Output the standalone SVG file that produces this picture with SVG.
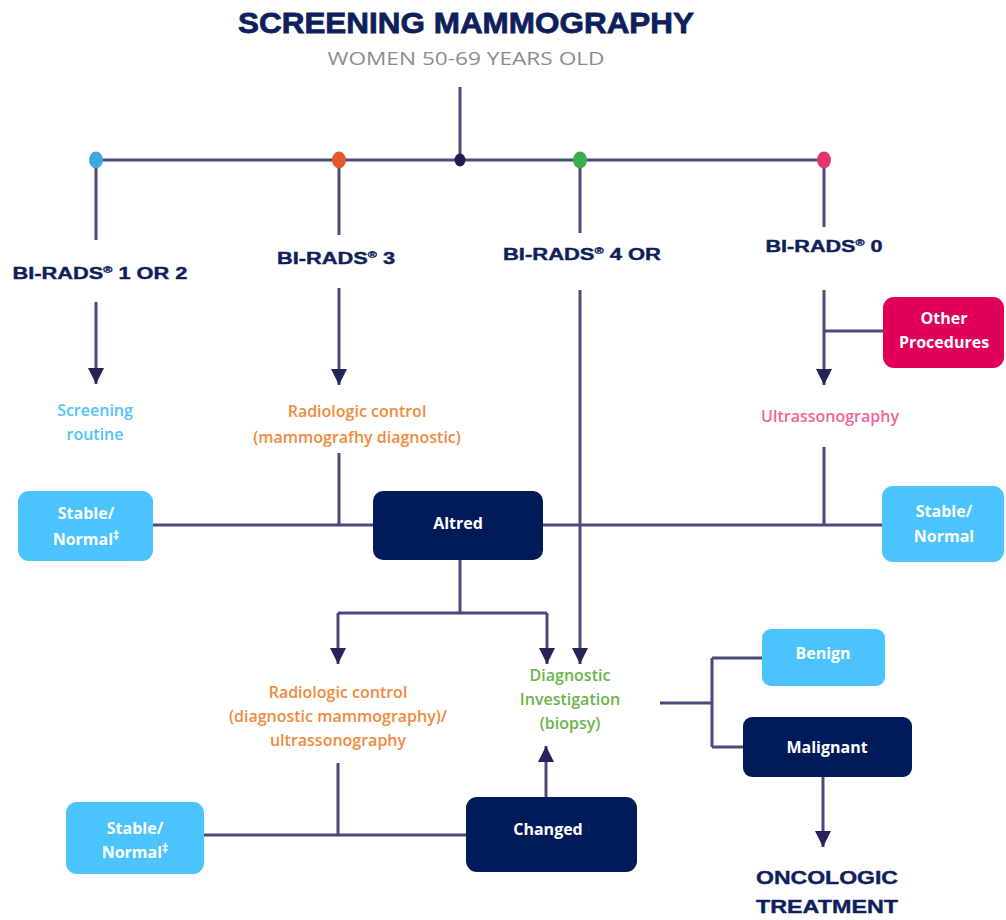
<svg xmlns="http://www.w3.org/2000/svg" width="1006" height="920" viewBox="0 0 1006 920">
<style>
.ln{stroke:#4a4a7c;stroke-width:3;fill:none}
.ar{stroke:#4a4a7c;stroke-width:3;fill:none;marker-end:url(#ah)}
.wide{font-family:"Liberation Sans",Arial,sans-serif;font-weight:bold;fill:#0f1f5c;text-anchor:middle}
.body{font-family:"Open Sans","Liberation Sans",sans-serif;font-weight:600;font-size:16px;text-anchor:middle}
.bt{font-family:"Open Sans","Liberation Sans",sans-serif;font-weight:700;font-size:16px;fill:#ffffff;text-anchor:middle}
.lb{fill:#4bc3fc}
.nv{fill:#001a5a}
.pk{fill:#e0005a}
</style>
<defs>
<marker id="ah" markerUnits="userSpaceOnUse" markerWidth="20" markerHeight="16" refX="16" refY="8" orient="auto">
<path d="M0,0 L16,8 L0,16 Z" fill="#24245a"/>
</marker>
</defs>
<rect width="1006" height="920" fill="#ffffff"/>

<g id="title">
<text class="wide" x="466" y="33" font-size="30" stroke="#0f1f5c" stroke-width="0.8" textLength="456" lengthAdjust="spacingAndGlyphs">SCREENING MAMMOGRAPHY</text>
<text x="466" y="65" font-family="Open Sans,Liberation Sans,sans-serif" font-size="19" fill="#8c8c8c" text-anchor="middle" textLength="277" lengthAdjust="spacingAndGlyphs">WOMEN 50-69 YEARS OLD</text>
</g>

<g id="connectors">
<path class="ln" d="M460,87 V160 M96,160 H824 M96,160 V240 M339,160 V235 M580,160 V233 M824,160 V227"/>
<path class="ar" d="M96,302 V384"/>
<path class="ar" d="M339,288 V385"/>
<path class="ar" d="M824,290 V385"/>
<path class="ln" d="M824,331 H883"/>
<path class="ar" d="M580,290 V664"/>
<path class="ln" d="M339,453 V525 M824,447 V525 M153,525 H373 M543,525 H882 M460,560 V613 M338,613 H547"/>
<path class="ar" d="M338,613 V664"/>
<path class="ar" d="M547,613 V664"/>
<path class="ln" d="M660,703 H712 M712,658 V747 M712,658 H762 M712,747 H743"/>
<path class="ar" d="M823,777 V847"/>
<path class="ln" d="M338,763 V835 M204,835 H466"/>
<path class="ar" d="M546,797 V746"/>
</g>

<g id="dots">
<ellipse cx="96" cy="160" rx="7" ry="8.5" fill="#3fa9e0"/>
<ellipse cx="339" cy="160" rx="7" ry="8.5" fill="#e5582a"/>
<ellipse cx="460" cy="160" rx="5.5" ry="6.5" fill="#1e1e52"/>
<ellipse cx="580" cy="160" rx="7" ry="8.5" fill="#3aae4a"/>
<ellipse cx="824" cy="160" rx="7" ry="8.5" fill="#e5336f"/>
</g>

<g id="birads12"><text class="wide" x="100" y="279" font-size="16" stroke="#0f1f5c" stroke-width="0.4" textLength="175" lengthAdjust="spacingAndGlyphs">BI-RADS<tspan font-size="9" dy="-6">®</tspan><tspan dy="6"> 1 OR 2</tspan></text></g>
<g id="birads3"><text class="wide" x="336" y="264" font-size="16" stroke="#0f1f5c" stroke-width="0.4" textLength="118" lengthAdjust="spacingAndGlyphs">BI-RADS<tspan font-size="9" dy="-6">®</tspan><tspan dy="6"> 3</tspan></text></g>
<g id="birads4"><text class="wide" x="582" y="260" font-size="16" stroke="#0f1f5c" stroke-width="0.4" textLength="158" lengthAdjust="spacingAndGlyphs">BI-RADS<tspan font-size="9" dy="-6">®</tspan><tspan dy="6"> 4 OR</tspan></text></g>
<g id="birads0"><text class="wide" x="824" y="252" font-size="16" stroke="#0f1f5c" stroke-width="0.4" textLength="117" lengthAdjust="spacingAndGlyphs">BI-RADS<tspan font-size="9" dy="-6">®</tspan><tspan dy="6"> 0</tspan></text></g>

<g id="screening-routine"><text class="body" fill="#4fc3f7" x="95" y="416">Screening</text><text class="body" fill="#4fc3f7" x="95" y="440">routine</text></g>
<g id="radiologic-control-1"><text class="body" fill="#f08a3c" x="357" y="417">Radiologic control</text><text class="body" fill="#f08a3c" x="357" y="443">(mammografhy diagnostic)</text></g>
<g id="ultrassonography"><text class="body" fill="#f2649a" x="830" y="422">Ultrassonography</text></g>

<g id="other-procedures"><rect class="pk" x="883" y="297" width="121" height="71" rx="11"/><text class="bt" x="944" y="324">Other</text><text class="bt" x="944" y="348">Procedures</text></g>

<g id="stable-left"><rect class="lb" x="18" y="491" width="135" height="70" rx="11"/><text class="bt" x="86" y="519">Stable/</text><text class="bt" x="86" y="545">Normal<tspan font-size="12" dy="-5">‡</tspan></text></g>
<g id="altred"><rect class="nv" x="373" y="491" width="170" height="69" rx="10"/><text class="bt" x="458" y="529">Altred</text></g>
<g id="stable-right"><rect class="lb" x="882" y="486" width="122" height="76" rx="11"/><text class="bt" x="944" y="517">Stable/</text><text class="bt" x="944" y="542">Normal</text></g>

<g id="radiologic-control-2"><text class="body" fill="#f08a3c" x="338" y="698">Radiologic control</text><text class="body" fill="#f08a3c" x="338" y="722">(diagnostic mammography)/</text><text class="body" fill="#f08a3c" x="338" y="746">ultrassonography</text></g>
<g id="diagnostic-investigation"><text class="body" fill="#6db24a" x="570" y="681">Diagnostic</text><text class="body" fill="#6db24a" x="570" y="705">Investigation</text><text class="body" fill="#6db24a" x="570" y="729">(biopsy)</text></g>

<g id="benign"><rect class="lb" x="762" y="629" width="123" height="57" rx="9"/><text class="bt" x="823" y="659">Benign</text></g>
<g id="malignant"><rect class="nv" x="743" y="717" width="169" height="60" rx="9"/><text class="bt" x="827" y="753">Malignant</text></g>

<g id="stable-bottom"><rect class="lb" x="66" y="802" width="138" height="72" rx="11"/><text class="bt" x="135" y="834">Stable/</text><text class="bt" x="135" y="858">Normal<tspan font-size="12" dy="-5">‡</tspan></text></g>
<g id="changed"><rect class="nv" x="466" y="797" width="171" height="75" rx="11"/><text class="bt" x="548" y="835">Changed</text></g>

<g id="oncologic"><text class="wide" x="827" y="884" font-size="19" stroke="#0f1f5c" stroke-width="0.4" textLength="142" lengthAdjust="spacingAndGlyphs">ONCOLOGIC</text><text class="wide" x="827" y="913" font-size="19" stroke="#0f1f5c" stroke-width="0.4" textLength="142" lengthAdjust="spacingAndGlyphs">TREATMENT</text></g>
</svg>
